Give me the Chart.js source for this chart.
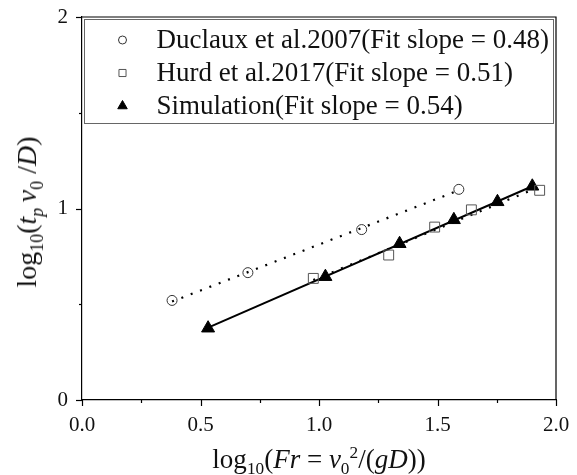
<!DOCTYPE html>
<html>
<head>
<meta charset="utf-8">
<script src="https://cdn.jsdelivr.net/npm/chart.js@4/dist/chart.umd.min.js"></script>
<style>
  html, body { margin: 0; padding: 0; background: #fff; }
  #wrap { position: relative; width: 577px; height: 475px; font-family: "Liberation Serif", "Times New Roman", serif; color: #111; }
  #chart { position: absolute; left: 0; top: 0; }
  .axis-title { position: absolute; white-space: nowrap; line-height: 1; }
  .axis-title sub, .axis-title sup { font-size: 0.64em; line-height: 0; }
  #xTitle { font-size: 27px; left: 319px; top: 446px; transform: translateX(-50%); }
  #yTitle { font-size: 28px; left: 27px; top: 212px; transform: translate(-50%, -50%) rotate(-90deg); }
</style>
</head>
<body>
<div id="wrap">
  <canvas id="chart" width="577" height="475"></canvas>
  <div id="xTitle" class="axis-title">log<sub>10</sub>(<i>Fr</i> = <i>v</i><sub>0</sub><sup>2</sup>/(<i>gD</i>))</div>
  <div id="yTitle" class="axis-title">log<sub>10</sub>(<i>t</i><sub><i>p</i></sub>&#8201;<i>v</i><sub>0</sub> /<i>D</i>)</div>
</div>
<script>
// log10(Fr) and log10(t_p v0 / D) for each source
const duclauxX = [0.38, 0.70, 1.18, 1.59];
const duclauxY = [0.52, 0.665, 0.89, 1.10];
const hurdX = [0.976, 1.294, 1.488, 1.643, 1.931];
const hurdY = [0.635, 0.757, 0.903, 0.993, 1.095];
const simX = [0.532, 1.027, 1.340, 1.569, 1.753, 1.900];
const simY = [0.375, 0.644, 0.816, 0.941, 1.035, 1.116];

// fitted slopes quoted in the legend
const fitSlopes = [0.48, 0.51, 0.54];
const seriesNames = [
  'Duclaux et al.2007(Fit slope = 0.48)',
  'Hurd et al.2017(Fit slope = 0.51)',
  'Simulation(Fit slope = 0.54)'
];

// axis tick values
const xTickValues = [0, 0.5, 1.0, 1.5, 2.0];
const yTickValues = [0, 1, 2];

const FONT = '"Liberation Serif", "Times New Roman", serif';

function toPoints(xs, ys) { return xs.map((x, i) => ({ x, y: ys[i] })); }

// straight fit line with the quoted slope through the centroid of the points
function fitLine(xs, ys, slope) {
  const mx = xs.reduce((a, b) => a + b, 0) / xs.length;
  const my = ys.reduce((a, b) => a + b, 0) / ys.length;
  const x0 = Math.min(...xs), x1 = Math.max(...xs);
  return [{ x: x0, y: my + slope * (x0 - mx) }, { x: x1, y: my + slope * (x1 - mx) }];
}

const markerStyles = [
  { pointStyle: 'circle', radius: 5, legendRadius: 4, border: '#333', fill: 'rgba(0,0,0,0)', width: 1 },
  { pointStyle: 'rect', radius: 7, legendRadius: 5, border: '#555', fill: 'rgba(0,0,0,0)', width: 1 },
  { pointStyle: 'triangle', radius: 7.5, legendRadius: 5.5, border: '#000', fill: '#000', width: 1 }
];

const lineDash = [[2, 8], [2, 8], []];
const xsAll = [duclauxX, hurdX, simX];
const ysAll = [duclauxY, hurdY, simY];

const datasets = [];
// fit lines first so the markers sit on top
xsAll.forEach((xs, i) => {
  datasets.push({
    label: seriesNames[i] + ' fit',
    isFit: true,
    data: fitLine(xs, ysAll[i], fitSlopes[i]),
    showLine: true,
    borderColor: '#000',
    borderWidth: i === 2 ? 2 : 2.2,
    borderDash: lineDash[i],
    pointRadius: 0,
    order: 2
  });
});
xsAll.forEach((xs, i) => {
  const m = markerStyles[i];
  datasets.push({
    label: seriesNames[i],
    isFit: false,
    data: toPoints(xs, ysAll[i]),
    showLine: false,
    pointStyle: m.pointStyle,
    pointRadius: m.radius,
    pointHoverRadius: m.radius,
    pointBorderColor: m.border,
    pointBackgroundColor: m.fill,
    pointBorderWidth: m.width,
    legendRadius: m.legendRadius,
    order: 1
  });
});

// tick marks: long for labelled values, short for the ones in between
const tickMarks = {
  id: 'tickMarks',
  afterDraw(chart) {
    const ctx = chart.ctx;
    const area = chart.chartArea;
    ctx.save();
    ctx.strokeStyle = '#000';
    ctx.lineWidth = 1.2;
    // top and right edges of the frame
    ctx.beginPath();
    ctx.moveTo(area.left, area.top);
    ctx.lineTo(area.right, area.top);
    ctx.lineTo(area.right, area.bottom);
    ctx.stroke();
    const xs = chart.scales.x, ys = chart.scales.y;
    xs.ticks.forEach((t, i) => {
      const px = Math.round(xs.getPixelForTick(i)) + 0.5;
      const major = xTickValues.some(v => Math.abs(v - t.value) < 1e-6);
      ctx.beginPath();
      ctx.moveTo(px, area.bottom);
      ctx.lineTo(px, area.bottom + (major ? 6 : 3));
      ctx.stroke();
    });
    ys.ticks.forEach((t, i) => {
      const py = Math.round(ys.getPixelForTick(i)) + 0.5;
      const major = yTickValues.some(v => Math.abs(v - t.value) < 1e-6);
      ctx.beginPath();
      ctx.moveTo(area.left, py);
      ctx.lineTo(area.left - (major ? 6 : 3), py);
      ctx.stroke();
    });
    ctx.restore();
  }
};

// boxed legend across the top of the plot
const boxLegend = {
  id: 'boxLegend',
  afterDraw(chart) {
    const ctx = chart.ctx;
    const area = chart.chartArea;
    const left = area.left + 1.5, right = area.right - 4, top = area.top + 2, bottom = area.top + 106;
    ctx.save();
    ctx.fillStyle = '#fff';
    ctx.fillRect(left, top, right - left, bottom - top);
    ctx.strokeStyle = '#666';
    ctx.lineWidth = 1;
    ctx.strokeRect(Math.round(left) + 0.5, Math.round(top) + 0.5, Math.round(right - left), Math.round(bottom - top));
    const entries = chart.data.datasets.filter(d => !d.isFit);
    ctx.font = '27px ' + FONT;
    ctx.textBaseline = 'middle';
    ctx.textAlign = 'left';
    entries.forEach((d, i) => {
      const cy = top + 21 + i * 33;
      ctx.strokeStyle = d.pointBorderColor;
      ctx.fillStyle = d.pointBackgroundColor;
      ctx.lineWidth = d.pointBorderWidth;
      Chart.helpers.drawPoint(ctx, { pointStyle: d.pointStyle, radius: d.legendRadius, borderWidth: d.pointBorderWidth, rotation: 0 }, left + 39, cy);
      ctx.fillStyle = '#111';
      ctx.fillText(d.label, left + 73, cy + 1);
    });
    ctx.restore();
  }
};

new Chart(document.getElementById('chart'), {
  type: 'scatter',
  data: { datasets },
  options: {
    responsive: false,
    animation: false,
    layout: { padding: { top: 17, right: 21, left: 0, bottom: 0 } },
    plugins: { legend: { display: false }, tooltip: { enabled: false } },
    scales: {
      x: {
        type: 'linear', min: 0, max: 2,
        afterFit(scale) { scale.height = 75; scale.paddingLeft = 0; scale.paddingRight = 0; },
        ticks: {
          stepSize: 0.25, autoSkip: false, maxRotation: 0, padding: 13,
          color: '#111', font: { family: FONT, size: 21 },
          callback: v => xTickValues.some(t => Math.abs(t - v) < 1e-6) ? v.toFixed(1) : ''
        },
        grid: { drawOnChartArea: false, drawTicks: false },
        border: { display: true, color: '#000', width: 1.2 }
      },
      y: {
        type: 'linear', min: 0, max: 2,
        afterFit(scale) { scale.width = 82; scale.paddingTop = 0; scale.paddingBottom = 0; },
        ticks: {
          stepSize: 0.5, autoSkip: false, padding: 14,
          color: '#111', font: { family: FONT, size: 21 },
          callback: v => yTickValues.some(t => Math.abs(t - v) < 1e-6) ? String(v) : ''
        },
        grid: { drawOnChartArea: false, drawTicks: false },
        border: { display: true, color: '#000', width: 1.2 }
      }
    }
  },
  plugins: [tickMarks, boxLegend]
});
</script>
</body>
</html>
